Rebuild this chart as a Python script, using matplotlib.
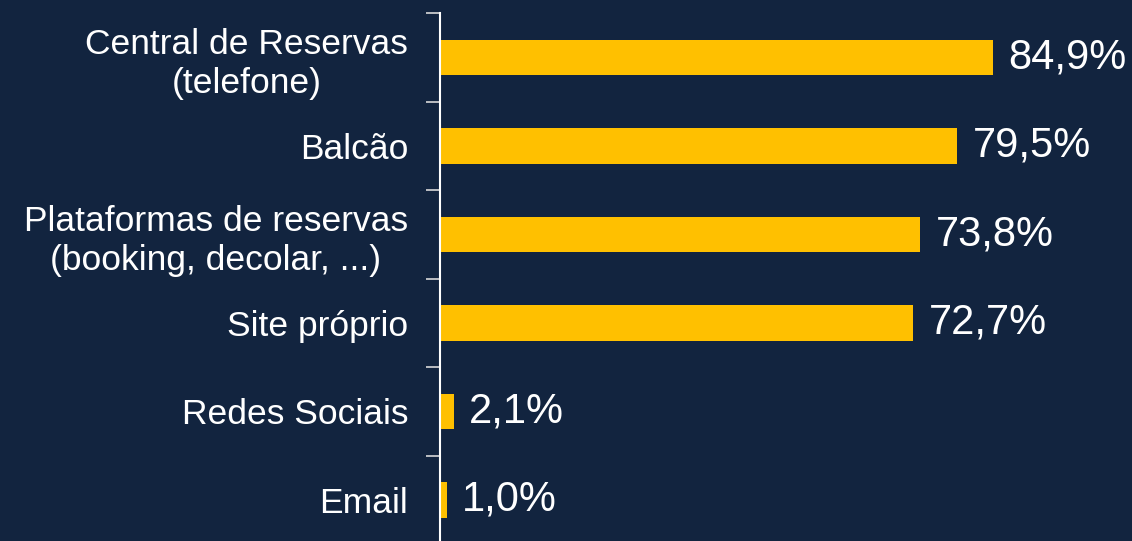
import matplotlib.pyplot as plt

plt.rcParams['font.family'] = ['Liberation Sans', 'DejaVu Sans']

categorias = ['Central de Reservas\n(telefone)', 'Balcão',
              'Plataformas de reservas\n(booking, decolar, ...)',
              'Site próprio', 'Redes Sociais', 'Email']
valores = [84.9, 79.5, 73.8, 72.7, 2.1, 1.0]
rotulos = ['84,9%', '79,5%', '73,8%', '72,7%', '2,1%', '1,0%']

fundo = '#12243f'
amarelo = '#ffc000'

fig = plt.figure(figsize=(11.32, 5.41), dpi=100, facecolor=fundo)
ax = fig.add_axes([0.3887, -0.006, 0.575, 0.982])
ax.set_facecolor(fundo)

pos = list(range(len(categorias)))
ax.barh(pos, valores, height=0.4, color=amarelo)
ax.set_ylim(len(categorias) - 0.5, -0.5)
ax.set_xlim(0, 100)

for p, v, r in zip(pos, valores, rotulos):
    ax.text(v + 2.4, p, r, va='center', ha='left', color='white', fontsize=30)

ax.set_yticks(pos)
ax.set_yticklabels(categorias, fontsize=25.5, color='white', linespacing=1.25,
                   multialignment='center')
ax.set_yticks([p + 0.5 for p in [-1] + pos], minor=True)
ax.tick_params(axis='y', which='major', length=0, pad=23)
ax.tick_params(axis='y', which='minor', length=10, color='#d9d9d9', width=1.2)
ax.set_xticks([])
for s in ['top', 'right', 'bottom']:
    ax.spines[s].set_visible(False)
ax.spines['left'].set_color('white')
ax.spines['left'].set_linewidth(1.5)

fig.savefig('out.png', dpi=100, facecolor=fundo)
